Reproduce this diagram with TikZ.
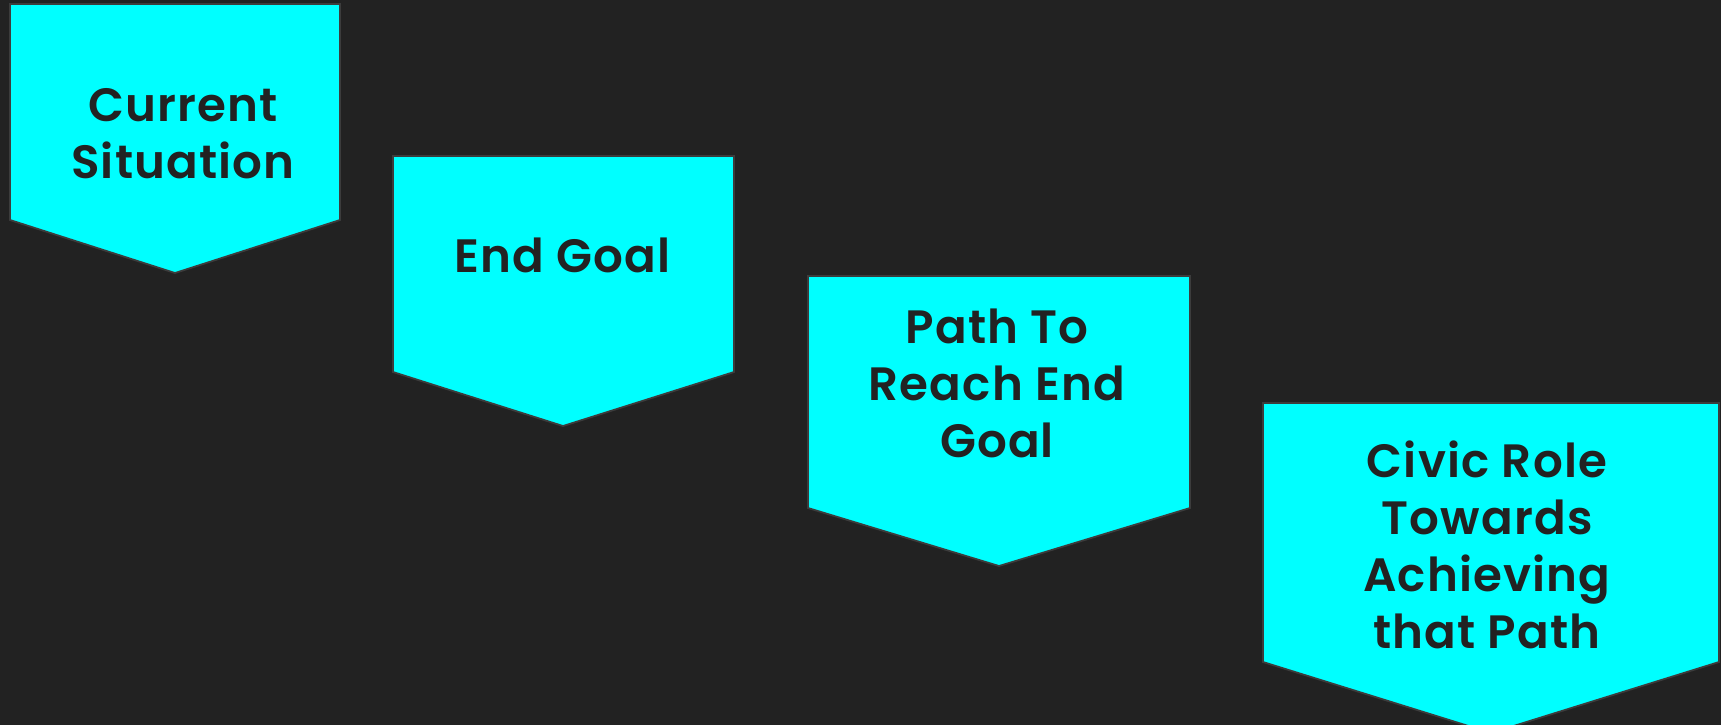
\documentclass[tikz,border=0pt]{standalone}
\usepackage{fontspec}
\setmainfont{Poppins}[UprightFont=* SemiBold, LetterSpace=2.5]
\definecolor{bgdark}{RGB}{34,34,34}
\definecolor{chevcyan}{RGB}{0,255,255}
\definecolor{chevedge}{RGB}{60,60,60}
\definecolor{labeltext}{RGB}{34,34,34}

\begin{document}
\begin{tikzpicture}[y=-1cm]
        \tikzstyle{chevron} = [fill=chevcyan, draw=chevedge, line width=0.5pt, line join=miter]
        \tikzstyle{label} = [text=labeltext, align=center, inner sep=0pt, font=\fontsize{13.3pt}{16.2pt}\selectfont]

        \fill [bgdark] (0,0) rectangle (17.21,7.25);
        \useasboundingbox (0,0) rectangle (17.21,7.25);
        \clip (0,0) rectangle (17.21,7.25);

        \draw [chevron] (0.10,0.04) -- (3.40,0.04) -- (3.40,2.20) -- (1.75,2.73) -- (0.10,2.20) -- cycle;
        \draw [chevron] (3.93,1.56) -- (7.34,1.56) -- (7.34,3.72) -- (5.63,4.26) -- (3.93,3.72) -- cycle;
        \draw [chevron] (8.08,2.76) -- (11.90,2.76) -- (11.90,5.08) -- (9.99,5.66) -- (8.08,5.08) -- cycle;
        \draw [chevron] (12.63,4.03) -- (17.19,4.03) -- (17.19,6.62) -- (14.91,7.33) -- (12.63,6.62) -- cycle;

        \node [label] (current) at (1.83,1.34) {Current\\Situation};
        \node [label] (goal)    at (5.62,2.555) {End Goal};
        \node [label] (path)    at (9.97,3.83) {Path To\\Reach End\\Goal};
        \node [label] (civic)   at (14.87,5.45) {Civic Role\\Towards\\Achieving\\that Path};
    \end{tikzpicture}
\end{document}
